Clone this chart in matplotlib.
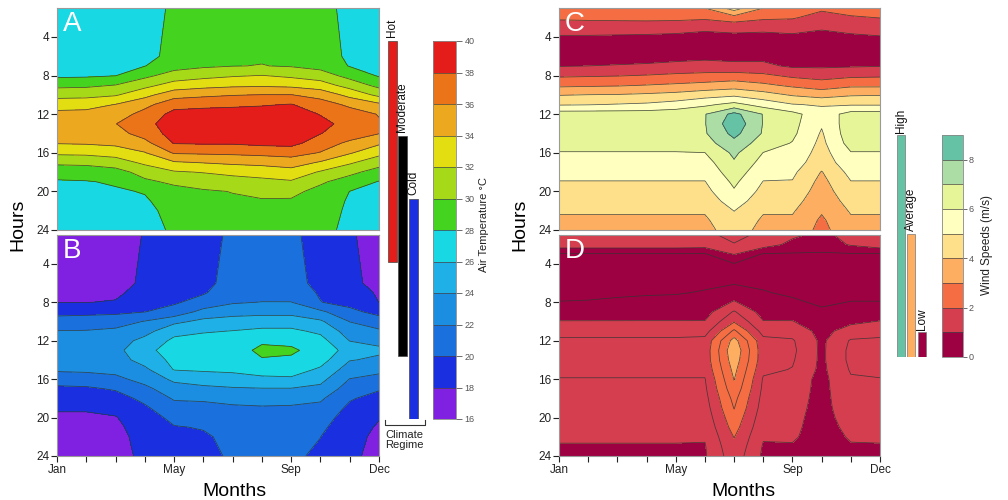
import numpy as np
import matplotlib
matplotlib.use("Agg")
import matplotlib.pyplot as plt
from matplotlib.lines import Line2D

plt.rcParams['font.family'] = ['Liberation Sans', 'DejaVu Sans']

W, H = 1008, 500

def rect(x0, y0, x1, y1):
    return [x0 / W, 1 - y1 / H, (x1 - x0) / W, (y1 - y0) / H]

# ---------------- data ----------------
months = list(range(1, 13))
month_tick_labels = ['Jan', '', '', '', 'May', '', '', '', 'Sep', '', '', 'Dec']
hour_ticks = [4, 8, 12, 16, 20, 24]

temp_hours = [1, 6, 7, 8, 9, 10, 11, 12, 13, 14, 15, 16, 17, 18, 19, 20, 21, 22, 24]
wind_hours = list(range(1, 25))

# Panel A: air temperature, hot regime (rows = months Jan..Dec, cols = temp_hours)
temp_A = [
    [27.0, 27.0, 27.3, 27.6, 29.5, 31.3, 33.2, 34.5, 35.5, 34.8, 34.1, 32.4, 30.4, 28.8, 27.8, 27.4, 27.0, 27.0, 27.0],
    [27.0, 27.05, 27.4, 27.7, 29.6, 31.4, 33.3, 34.6, 35.6, 34.9, 34.2, 32.5, 30.5, 28.9, 27.9, 27.5, 27.1, 27.0, 27.0],
    [27.2, 27.3, 27.6, 27.95, 30.05, 31.8, 34.05, 35.0, 35.95, 35.3, 34.5, 32.8, 31.1, 29.2, 28.2, 27.8, 27.5, 27.3, 27.2],
    [27.5, 27.6, 27.95, 29.5, 31.4, 33.4, 35.4, 36.7, 37.4, 36.8, 35.4, 33.9, 32.4, 30.8, 29.6, 28.1, 27.8, 27.6, 27.5],
    [28.2, 28.4, 29.2, 30.9, 32.8, 35.2, 37.3, 38.6, 39.0, 38.8, 38.1, 36.2, 33.8, 31.8, 30.4, 29.3, 28.8, 28.5, 28.2],
    [29.0, 29.2, 29.7, 31.4, 33.3, 35.6, 37.5, 38.8, 39.3, 39.0, 38.2, 36.3, 34.1, 32.1, 30.8, 29.8, 29.4, 29.2, 29.0],
    [29.5, 29.7, 29.95, 31.8, 33.6, 35.9, 37.6, 39.0, 39.5, 39.2, 38.2, 36.4, 34.4, 32.5, 31.2, 30.05, 29.8, 29.6, 29.5],
    [29.5, 29.8, 30.05, 32.05, 33.7, 36.05, 37.8, 39.1, 39.5, 39.3, 38.5, 36.6, 34.6, 32.8, 31.5, 30.3, 29.9, 29.7, 29.5],
    [29.2, 29.5, 29.85, 31.6, 33.5, 36.05, 38.1, 39.1, 39.4, 39.2, 38.6, 36.8, 35.0, 33.2, 31.8, 30.5, 29.8, 29.5, 29.2],
    [28.6, 28.8, 29.3, 31.0, 32.9, 35.3, 36.9, 37.9, 38.6, 38.05, 37.0, 35.9, 33.8, 31.8, 30.3, 29.4, 29.0, 28.8, 28.6],
    [27.5, 27.7, 27.9, 29.3, 31.2, 33.4, 35.6, 36.9, 37.3, 37.05, 35.6, 34.2, 32.3, 30.5, 29.1, 27.98, 27.8, 27.7, 27.5],
    [27.0, 27.1, 27.4, 27.8, 29.4, 31.5, 34.4, 35.9, 36.2, 36.05, 34.3, 32.6, 30.8, 29.2, 27.9, 27.5, 27.2, 27.1, 27.0],
]

# Panel B: air temperature, cold regime
temp_B = [
    [16.9, 17.1, 17.5, 17.95, 19.4, 20.8, 22.05, 22.9, 23.3, 23.05, 22.3, 20.9, 19.6, 18.8, 18.2, 17.7, 17.3, 17.1, 16.9],
    [16.9, 17.1, 17.5, 17.97, 19.5, 20.9, 22.1, 22.9, 23.3, 23.05, 22.4, 21.05, 19.7, 18.9, 18.2, 17.7, 17.3, 17.1, 16.9],
    [17.2, 17.4, 17.7, 18.1, 19.6, 21.1, 22.4, 23.05, 23.4, 23.1, 22.6, 21.5, 20.2, 19.2, 18.5, 17.9, 17.6, 17.4, 17.2],
    [18.1, 18.3, 18.6, 19.1, 19.98, 22.1, 23.3, 24.6, 25.5, 24.8, 23.6, 22.7, 21.5, 20.5, 19.7, 19.1, 18.9, 18.7, 18.5],
    [19.2, 19.4, 19.6, 19.8, 20.6, 23.5, 25.4, 26.4, 26.8, 26.5, 26.1, 24.4, 23.2, 22.2, 21.3, 20.5, 19.9, 19.6, 19.3],
    [19.6, 19.7, 19.85, 20.6, 22.7, 24.5, 25.8, 26.8, 27.2, 26.9, 26.3, 24.8, 23.6, 22.3, 21.4, 20.6, 20.1, 19.8, 19.6],
    [20.2, 20.4, 20.9, 21.8, 23.2, 24.9, 26.05, 27.05, 27.4, 27.1, 26.4, 25.2, 23.8, 22.6, 21.7, 21.05, 20.6, 20.4, 20.2],
    [20.6, 20.8, 21.2, 22.05, 23.4, 25.05, 26.4, 27.8, 28.3, 27.9, 26.8, 25.6, 23.9, 22.8, 21.8, 21.2, 20.9, 20.7, 20.6],
    [20.3, 20.5, 21.05, 22.05, 23.4, 25.05, 26.4, 27.7, 28.2, 27.8, 26.9, 25.7, 23.9, 22.8, 21.7, 21.05, 20.6, 20.4, 20.3],
    [19.4, 19.6, 19.8, 20.05, 22.4, 24.3, 25.6, 26.7, 27.5, 26.8, 25.7, 24.6, 23.5, 22.3, 21.5, 20.9, 20.4, 20.02, 19.7],
    [18.2, 18.4, 18.8, 19.4, 20.5, 21.95, 23.05, 23.95, 25.05, 24.1, 23.05, 21.95, 21.05, 20.2, 19.6, 19.1, 18.8, 18.6, 18.4],
    [17.3, 17.5, 17.8, 17.98, 19.4, 20.9, 22.3, 23.6, 24.3, 23.7, 22.5, 21.4, 20.2, 19.3, 18.6, 18.1, 17.8, 17.6, 17.4],
]

# Panel C: wind speed, high regime (rows = months, cols = hours 1..24)
wind_C = [
    [2.6, 2.15, 1.5, 0.9, 0.6, 0.6, 0.95, 1.85, 2.8, 3.95, 4.9, 6.5, 6.6, 6.6, 6.4, 5.95, 5.6, 5.3, 4.97, 4.7, 4.4, 4.1, 3.85, 3.7],
    [2.6, 2.2, 1.5, 0.9, 0.6, 0.62, 1.0, 1.9, 2.85, 4.02, 4.95, 6.5, 6.6, 6.6, 6.4, 5.95, 5.6, 5.3, 4.97, 4.7, 4.4, 4.1, 3.85, 3.7],
    [2.7, 2.25, 1.45, 0.88, 0.6, 0.65, 1.05, 1.95, 2.9, 4.05, 5.05, 6.5, 6.6, 6.6, 6.4, 5.95, 5.6, 5.3, 4.97, 4.7, 4.4, 4.1, 3.85, 3.7],
    [2.75, 2.3, 1.4, 0.86, 0.62, 0.7, 1.1, 2.05, 3.02, 4.15, 5.15, 6.5, 6.6, 6.6, 6.4, 5.95, 5.6, 5.3, 4.97, 4.7, 4.4, 4.1, 3.85, 3.7],
    [2.85, 2.3, 1.3, 0.84, 0.62, 0.75, 1.2, 2.2, 3.15, 4.3, 5.4, 6.6, 6.65, 6.6, 6.4, 5.95, 5.6, 5.3, 4.97, 4.7, 4.4, 4.1, 3.85, 3.7],
    [3.02, 2.2, 1.15, 0.8, 0.6, 0.8, 1.3, 2.3, 3.3, 4.6, 5.8, 6.95, 6.95, 6.9, 6.6, 5.99, 5.6, 5.3, 4.97, 4.7, 4.4, 4.1, 3.85, 3.7],
    [4.5, 2.6, 1.3, 0.8, 0.6, 0.75, 1.2, 2.4, 3.5, 4.8, 6.3, 8.3, 8.7, 8.3, 7.7, 7.2, 6.9, 6.55, 6.2, 5.9, 5.5, 5.02, 4.75, 4.5],
    [3.02, 2.2, 1.2, 0.8, 0.6, 0.75, 1.2, 2.2, 3.2, 4.4, 5.6, 6.95, 6.95, 6.9, 6.5, 5.98, 5.65, 5.3, 4.97, 4.7, 4.4, 4.1, 3.85, 3.7],
    [2.8, 2.1, 1.3, 0.85, 0.6, 0.6, 0.85, 1.8, 2.8, 3.9, 5.05, 6.3, 6.3, 6.2, 5.95, 5.7, 5.45, 5.2, 4.95, 4.7, 4.4, 4.1, 3.85, 3.7],
    [2.2, 1.6, 1.1, 0.75, 0.5, 0.5, 0.85, 1.6, 2.5, 3.6, 4.9, 5.4, 5.1, 4.9, 4.75, 4.6, 4.45, 3.95, 3.7, 3.5, 3.3, 3.1, 2.85, 2.7],
    [2.4, 1.9, 1.3, 0.85, 0.6, 0.6, 0.9, 1.8, 2.8, 3.9, 4.9, 6.4, 6.6, 6.6, 6.4, 5.95, 5.6, 5.3, 4.97, 4.7, 4.4, 4.1, 3.85, 3.7],
    [2.5, 2.02, 1.4, 0.95, 0.6, 0.6, 0.95, 1.85, 2.8, 3.95, 4.9, 6.4, 6.6, 6.6, 6.4, 5.95, 5.6, 5.3, 4.97, 4.7, 4.4, 4.1, 3.85, 3.7],
]

# Panel D: wind speed, low regime
wind_D = [
    [1.3, 1.3, 0.45, 0.4, 0.38, 0.38, 0.42, 0.51, 0.75, 1.02, 1.3, 1.6, 1.7, 1.7, 1.62, 1.48, 1.42, 1.36, 1.3, 1.22, 1.15, 1.06, 0.97, 0.92],
    [1.3, 1.3, 0.45, 0.4, 0.38, 0.39, 0.43, 0.52, 0.76, 1.02, 1.3, 1.6, 1.7, 1.7, 1.62, 1.48, 1.42, 1.36, 1.3, 1.22, 1.15, 1.06, 0.97, 0.92],
    [1.3, 1.3, 0.45, 0.4, 0.38, 0.4, 0.45, 0.55, 0.77, 1.02, 1.3, 1.6, 1.7, 1.7, 1.62, 1.48, 1.42, 1.36, 1.3, 1.22, 1.15, 1.06, 0.97, 0.92],
    [1.3, 1.3, 0.45, 0.4, 0.39, 0.41, 0.47, 0.57, 0.78, 1.02, 1.3, 1.6, 1.7, 1.7, 1.62, 1.48, 1.42, 1.36, 1.3, 1.22, 1.15, 1.06, 0.97, 0.93],
    [1.3, 1.3, 0.45, 0.4, 0.4, 0.43, 0.48, 0.58, 0.78, 1.02, 1.3, 1.6, 1.7, 1.7, 1.62, 1.48, 1.42, 1.36, 1.3, 1.22, 1.15, 1.06, 0.97, 0.94],
    [1.3, 1.25, 0.45, 0.4, 0.4, 0.45, 0.52, 0.6, 0.8, 1.02, 1.3, 1.65, 1.7, 1.7, 1.62, 1.48, 1.42, 1.35, 1.28, 1.2, 1.12, 1.04, 0.97, 0.95],
    [1.75, 1.45, 1.02, 0.48, 0.42, 0.46, 0.75, 1.05, 1.55, 1.95, 2.6, 3.2, 3.4, 3.3, 3.15, 3.02, 2.85, 2.65, 2.52, 2.35, 2.2, 2.02, 1.9, 1.8],
    [1.3, 1.25, 0.45, 0.4, 0.4, 0.45, 0.52, 0.6, 0.8, 1.02, 1.3, 1.65, 1.7, 1.7, 1.6, 1.45, 1.4, 1.34, 1.28, 1.2, 1.12, 1.04, 0.96, 0.91],
    [1.1, 0.85, 0.45, 0.4, 0.39, 0.41, 0.45, 0.55, 0.78, 1.02, 1.3, 1.55, 1.6, 1.55, 1.48, 1.3, 1.25, 1.2, 1.15, 1.12, 1.1, 1.06, 0.96, 0.9],
    [0.85, 0.7, 0.45, 0.4, 0.35, 0.35, 0.4, 0.45, 0.55, 0.7, 0.85, 0.9, 0.9, 0.9, 0.88, 0.85, 0.85, 0.85, 0.85, 0.83, 0.8, 0.78, 0.75, 0.72],
    [1.2, 1.05, 0.45, 0.4, 0.38, 0.38, 0.42, 0.51, 0.7, 0.9, 1.2, 1.55, 1.62, 1.62, 1.55, 1.45, 1.38, 1.32, 1.26, 1.2, 1.13, 1.05, 0.96, 0.9],
    [1.3, 1.3, 0.45, 0.4, 0.38, 0.38, 0.42, 0.51, 0.75, 1.02, 1.3, 1.6, 1.7, 1.7, 1.62, 1.48, 1.42, 1.36, 1.3, 1.22, 1.15, 1.06, 0.97, 0.92],
]

temp_levels = list(range(16, 42, 2))
temp_colors = ['#8020e0', '#1a30e0', '#1a70dc', '#1c8ee2', '#1eb0e6', '#18d8e4',
               '#44d420', '#a6da18', '#e2de12', '#eca81e', '#ec7418', '#e41c1a']
wind_levels = list(range(0, 10))
wind_colors = ['#9e0142', '#d53e4f', '#f46d43', '#fdae61', '#fee08b',
               '#ffffbf', '#e6f598', '#abdda4', '#66c2a5']

regime_names = ['Hot', 'Moderate', 'Cold']
regime_low = [26, 20, 16]
regime_high = [40, 34, 30]
regime_colors = ['#e41c1a', '#000000', '#1a30e0']

wind_regime_names = ['High', 'Average', 'Low']
wind_regime_low = [0, 0, 0]
wind_regime_high = [9, 5, 1]
wind_regime_colors = ['#66c2a5', '#fdae61', '#9e0142']

# ---------------- figure ----------------
fig = plt.figure(figsize=(W / 100, H / 100), dpi=100)
fig.patch.set_facecolor('white')


def panel(box, Z, hours, levels, colors, line_levels, letter, show_x):
    ax = fig.add_axes(rect(*box))
    Zt = np.array(Z).T
    cf = ax.contourf(months, hours, Zt, levels=levels, colors=colors)
    ax.contour(months, hours, Zt, levels=line_levels, colors='#333333',
               linewidths=0.55, alpha=0.85)
    ax.set_xlim(1, 12)
    ax.set_ylim(24, 1)
    ax.set_yticks(hour_ticks)
    ax.set_xticks(months)
    ax.tick_params(direction='out', length=4, width=0.8, labelsize=8.5, pad=1.5,
                   colors='#222222')
    if show_x:
        ax.set_xticklabels(month_tick_labels)
    else:
        ax.tick_params(axis='x', bottom=False, labelbottom=False)
    for s in ax.spines.values():
        s.set_color('#9a9a9a')
        s.set_linewidth(0.8)
    ax.text(0.018, 0.985, letter, transform=ax.transAxes, color='white',
            fontsize=20, va='top', ha='left')
    return cf


cfA = panel((57, 8, 379, 230), temp_A, temp_hours, temp_levels, temp_colors,
            temp_levels, 'A', False)
cfB = panel((57, 235, 379, 456), temp_B, temp_hours, temp_levels, temp_colors,
            temp_levels, 'B', True)
cfC = panel((559, 8, 880, 230), wind_C, wind_hours, wind_levels, wind_colors,
            list(range(1, 9)), 'C', False)
cfD = panel((559, 235, 880, 456), wind_D, wind_hours, wind_levels, wind_colors,
            [0.5, 1, 1.5, 2, 2.5, 3, 3.5], 'D', True)

# temperature colorbar
caxT = fig.add_axes(rect(433, 41, 456, 419))
cbT = fig.colorbar(cfA, cax=caxT, ticks=temp_levels, drawedges=True)
cbT.outline.set_edgecolor('#888888')
cbT.outline.set_linewidth(0.6)
cbT.dividers.set_color('#444444')
cbT.dividers.set_linewidth(0.5)
caxT.tick_params(labelsize=6.5, length=4, width=0.6, colors='#555555', pad=2)

# wind colorbar
caxW = fig.add_axes(rect(942, 135, 963, 357))
cbW = fig.colorbar(cfC, cax=caxW, ticks=[0, 2, 4, 6, 8], drawedges=True)
cbW.outline.set_edgecolor('#888888')
cbW.outline.set_linewidth(0.6)
cbW.dividers.set_color('#444444')
cbW.dividers.set_linewidth(0.5)
caxW.tick_params(labelsize=6.5, length=3, width=0.6, colors='#555555', pad=1)

# climate regime bars (same scale as temperature colorbar)
axR = fig.add_axes(rect(385, 41, 421, 419))
axR.set_xlim(385, 421)
axR.set_ylim(16, 40)
axR.axis('off')
for xc, name, lo, hi, col in zip([392.5, 402.5, 413.5], regime_names,
                                 regime_low, regime_high, regime_colors):
    axR.bar(xc, hi - lo, bottom=lo, width=9, color=col, edgecolor='#444444',
            linewidth=0.5)
    axR.text(xc, hi + 0.25, name, rotation=90, ha='center', va='bottom',
             fontsize=8.5, color='#111111', clip_on=False)

# wind regime bars (same scale as wind colorbar)
axWR = fig.add_axes(rect(895, 135, 928, 357))
axWR.set_xlim(895, 928)
axWR.set_ylim(0, 9)
axWR.axis('off')
for xc, name, lo, hi, col in zip([901, 911, 922], wind_regime_names,
                                 wind_regime_low, wind_regime_high,
                                 wind_regime_colors):
    axWR.bar(xc, hi - lo, bottom=lo, width=8, color=col, edgecolor='#777777',
             linewidth=0.5)
    axWR.text(xc, hi + 0.1, name, rotation=90, ha='center', va='bottom',
              fontsize=8.5, color='#111111', clip_on=False)

# overlay for labels in pixel coordinates
ov = fig.add_axes([0, 0, 1, 1])
ov.set_xlim(0, W)
ov.set_ylim(H, 0)
ov.axis('off')
ov.patch.set_visible(False)

ov.text(18, 225, 'Hours', rotation=90, ha='center', va='center', fontsize=14)
ov.text(520, 225, 'Hours', rotation=90, ha='center', va='center', fontsize=14)
ov.text(234, 492, 'Months', ha='center', va='center', fontsize=14)
ov.text(743, 492, 'Months', ha='center', va='center', fontsize=14)
ov.text(484, 224, 'Air Temperature \u00b0C', rotation=90, ha='center',
        va='center', fontsize=8, color='#222222')
ov.text(987, 245, 'Wind Speeds (m/s)', rotation=90, ha='center',
        va='center', fontsize=8.5, color='#222222')

# climate regime bracket
ov.add_line(Line2D([385, 385, 425, 425], [420, 425, 425, 420],
                   color='#333333', linewidth=0.8))
ov.text(385, 430, 'Climate\nRegime', ha='left', va='top', fontsize=8,
        linespacing=1.0, color='#222222')

fig.savefig('out.png', dpi=100, facecolor='white')
